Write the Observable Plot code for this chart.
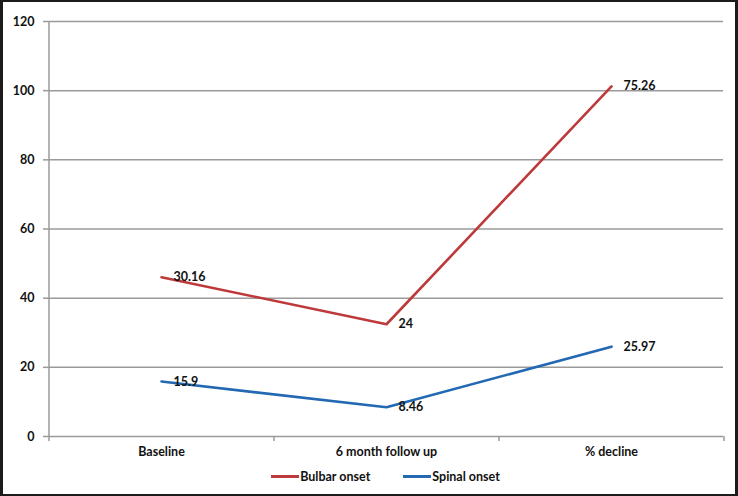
<!DOCTYPE html>
<html><head><meta charset="utf-8">
<script src="https://cdn.jsdelivr.net/npm/d3@7"></script>
<script src="https://cdn.jsdelivr.net/npm/@observablehq/plot@0.6"></script>
<style>
body{margin:0;background:#fff;}
#frame{width:738px;height:496px;box-sizing:border-box;border-style:solid;border-color:#1b1b1b;border-width:2px 3px 2px 3px;background:#fff;font-family:Lato,sans-serif;font-weight:700;overflow:hidden;}
#chart svg{display:block;}
#legend{height:24px;display:flex;align-items:center;justify-content:center;padding-left:33px;font-size:12.5px;color:#111;}
.item{display:flex;align-items:center;}
.sw{width:28px;height:3px;margin-right:1px;}
</style></head><body><div id="frame"><div id="chart"></div><div id="legend"></div></div>
<script>
const categories = ["Baseline", "6 month follow up", "% decline"];
const seriesNames = ["Spinal onset", "Bulbar onset"]; // stacking order (bottom first)
const spinal = [15.9, 8.46, 25.97];
const bulbar = [30.16, 24, 75.26];
const yTicks = [0, 20, 40, 60, 80, 100, 120];
const legendOrder = ["Bulbar onset", "Spinal onset"];
const colors = {"Bulbar onset": "#be3a3a", "Spinal onset": "#2368b3"};

const rows = [
  ...categories.map((c, i) => ({cat: c, series: "Spinal onset", value: spinal[i]})),
  ...categories.map((c, i) => ({cat: c, series: "Bulbar onset", value: bulbar[i]}))
];

const W = 732, H = 462, ML = 45, MR = 12, MT = 19, MB = 28;
const halfStep = (W - ML - MR) / categories.length / 2;
const grid = "#9a9a9a";

const chart = Plot.plot({
  width: W, height: H,
  marginLeft: ML, marginRight: MR, marginTop: MT, marginBottom: MB,
  style: {fontFamily: "Lato, sans-serif", fontWeight: 700, fontSize: "12.5px", color: "#111", background: "#fff"},
  x: {type: "point", domain: categories, padding: 0.5, label: null},
  y: {domain: [0, 120], label: null},
  color: {domain: Object.keys(colors), range: Object.values(colors)},
  marks: [
    Plot.ruleY(yTicks, {stroke: grid, strokeWidth: 1.5}),
    Plot.ruleX(categories.slice(0, 1), {x: d => d, dx: -halfStep, y1: 0, y2: 120, stroke: grid, strokeWidth: 1.5}),
    Plot.ruleX(categories, {x: d => d, dx: -halfStep, y1: 0, y2: 0, insetBottom: -5, stroke: grid, strokeWidth: 1.5}),
    Plot.ruleX(categories.slice(-1), {x: d => d, dx: halfStep, y1: 0, y2: 0, insetBottom: -5, stroke: grid, strokeWidth: 1.5}),
    Plot.axisY(yTicks, {tickSize: 5, tickPadding: 9, stroke: grid, strokeWidth: 1.5, fill: "#111", label: null}),
    Plot.axisX({tickSize: 0, tickPadding: 11, fill: "#111", label: null}),
    Plot.lineY(rows, Plot.stackY2({x: "cat", y: "value", z: "series", stroke: "series", order: seriesNames, strokeWidth: 2.6})),
    Plot.text(rows, Plot.stackY2({x: "cat", y: "value", z: "series", order: seriesNames, text: d => String(d.value), textAnchor: "start", dx: 12, fill: "#111"}))
  ]
});
document.getElementById("chart").appendChild(chart);

const legend = document.getElementById("legend");
legendOrder.forEach((name, i) => {
  const item = document.createElement("div");
  item.className = "item";
  if (i > 0) item.style.marginLeft = "33px";
  const sw = document.createElement("span");
  sw.className = "sw";
  sw.style.background = colors[name];
  const t = document.createElement("span");
  t.textContent = name;
  item.appendChild(sw); item.appendChild(t);
  legend.appendChild(item);
});
</script></body></html>
